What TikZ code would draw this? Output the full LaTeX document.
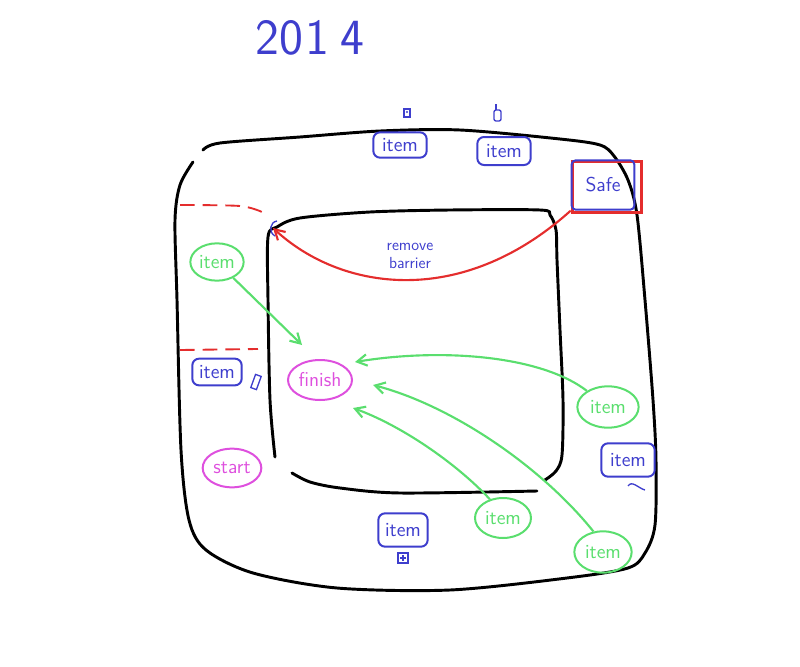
\documentclass[tikz,border=0pt]{standalone}
\usepackage{tikz}
\usetikzlibrary{shapes.geometric}
\usetikzlibrary{arrows.meta}
\definecolor{penblue}{RGB}{62,62,205}
\definecolor{pengreen}{RGB}{90,222,110}
\definecolor{penpink}{RGB}{222,80,222}
\definecolor{penred}{RGB}{228,45,45}
\begin{document}
\begin{tikzpicture}[x=0.75pt,y=-0.75pt,
    wall/.style={line width=2.2pt,black,line cap=round},
    box/.style={rectangle,rounded corners=5pt,draw=penblue,line width=1.5pt,text=penblue,
        minimum width=40pt,minimum height=20pt,inner sep=1pt,font=\sffamily\fontsize{15}{16}\selectfont},
    loot/.style={ellipse,draw=pengreen,line width=1.5pt,text=pengreen,
        minimum width=40pt,minimum height=28pt,inner sep=0pt,font=\sffamily\fontsize{15}{16}\selectfont},
    goal/.style={ellipse,draw=penpink,line width=1.5pt,text=penpink,
        minimum width=44pt,minimum height=29pt,inner sep=0pt,font=\sffamily\fontsize{15}{16}\selectfont},
    icon/.style={penblue,line width=1pt},
    go/.style={pengreen,line width=1.6pt,arrows = -{Straight Barb[angle=60:3mm]}},
    barrier/.style={penred,line width=1.4pt,dash pattern=on 11pt off 6pt}]

            % \draw [help lines] (0,0) grid (800,667);
            \useasboundingbox (0,0) rectangle (800,667);

            % outer and inner walls
            \draw[wall] plot[smooth] coordinates {(203,150) (220,143) (300,137) (380,131) (460,130) (560,139) (600,145) (614,156) (628,180) (637,215) (645,300) (653,400) (656,460) (655,525) (645,553) (628,568) (567,578) (450,590) (337,588) (253,573) (206,550) (189,520) (181,450) (177,300) (175,220) (180,185) (193,162)};
            \draw[wall] plot[smooth] coordinates {(275,457) (270,400) (268,300) (268,237) (277,227) (300,218) (370,212) (450,210) (540,210) (550,215) (556,230) (557,260) (560,330) (563,400) (562,455) (556,471) (545,480)};
            \draw[wall] plot[smooth] coordinates {(292,473) (310,482) (340,488) (400,493) (537,491)};

            \draw[barrier] plot[smooth] coordinates {(180,205) (240,206) (262,212)};
            \draw[barrier] (180,350) -- (258,349);

            \path   (310,38) node (year) [text=penblue,font=\sffamily\fontsize{38}{40}\selectfont] {20\kern2pt1\kern8pt4}

                    (400,145) node (ia) [box,minimum height=19pt] {item}
                    (504,151) node (ib) [box,minimum height=21pt] {item}
                    (217,372) node (ic) [box,minimum width=37pt] {item}
                    (628,460) node (id) [box,minimum height=25pt] {item}
                    (403,530) node (ie) [box,minimum width=37pt,minimum height=25pt] {item}

                    (607,187) node (lock) [rectangle,draw=penred,line width=2.2pt,minimum width=52pt,minimum height=38pt] {}
                    (603,185) node (safe) [box,minimum width=47pt,minimum height=37pt,rounded corners=3pt] {Safe}

                    (217,262) node (ga) [loot] {item}
                    (608,407) node (gb) [loot,minimum width=46pt,minimum height=31pt] {item}
                    (503,518) node (gc) [loot,minimum width=42pt,minimum height=30pt] {item}
                    (603,552) node (gd) [loot,minimum width=43pt,minimum height=31pt] {item}

                    (320,380) node (fin) [goal,minimum width=48pt,minimum height=30pt] {finish}
                    (232,468) node (st) [goal] {start}

                    (410,256) node (note) [text=penblue,align=center,font=\sffamily\fontsize{12}{13}\selectfont] {remove\\barrier};

            \coordinate (gate) at (273,228);
            \coordinate (ea) at (302,345);
            \coordinate (eb) at (355,362);
            \coordinate (ec) at (353,408);
            \coordinate (ed) at (373,385);

            \draw[penred,line width=1.6pt,arrows = -{Straight Barb[angle=60:3mm]}] (safe.south west) .. controls (460,310) and (340,290) .. (gate);
            \draw[go] (ga) -- (ea);
            \draw[go] (gb) .. controls (540,355) and (440,348) .. (eb);
            \draw[go] (gc.125) .. controls (455,462) and (400,425) .. (ec);
            \draw[go] (gd.115) .. controls (540,465) and (450,405) .. (ed);

            % little item marks
            \draw[icon] (404,109) rectangle (410,117);
            \fill[penblue] (407,112) circle (1.2);
            \draw[icon,rounded corners=1.5pt] (494,110) rectangle (501,121);
            \draw[icon] (496,110) -- (496,104);
            \draw[icon,rotate around={-20:(256,382)}] (253,375) rectangle (259,389);
            \draw[icon] (628,486) .. controls (632,480) and (638,488) .. (645,490);
            \draw[icon] (398,553) rectangle (408,563);
            \draw[icon] (403,555) -- (403,561) (400,558) -- (406,558);
            \draw[icon] (277,221) .. controls (270,222) and (268,232) .. (275,236);
        \end{tikzpicture}
\end{document}
